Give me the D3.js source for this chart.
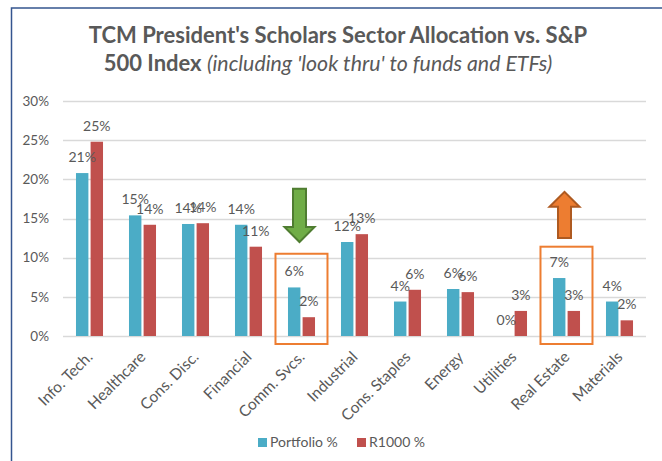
<!DOCTYPE html>
<html>
<head>
<meta charset="utf-8">
<script src="https://cdn.jsdelivr.net/npm/d3@7"></script>
<style>
    body { margin: 0; background: #fff; }
    svg { display: block; font-family: Lato, "Open Sans", sans-serif; }
</style>
</head>
<body>
<script>
// sectors and weights (%)
var sectors = ["Info. Tech.", "Healthcare", "Cons. Disc.", "Financial", "Comm. Svcs.", "Industrial",
    "Cons. Staples", "Energy", "Utilities", "Real Estate", "Materials"];
var portfolio = [20.8, 15.4, 14.3, 14.2, 6.2, 12.0, 4.4, 6.0, 0, 7.4, 4.4];
var r1000 = [24.8, 14.2, 14.4, 11.4, 2.4, 13.0, 5.9, 5.6, 3.2, 3.2, 2.0];
var seriesNames = ["Portfolio %", "R1000 %"];
var yTicks = [0, 5, 10, 15, 20, 25, 30];

// highlight boxes and arrows
var boxCats = ["Comm. Svcs.", "Real Estate"];
var boxTops = [10.5, 11.4];
var arrowCats = ["Comm. Svcs.", "Real Estate"];
var arrowDirs = ["down", "up"];
var arrowFrom = [18.8, 12.5];
var arrowTo = [12.0, 18.4];

var width = 662, height = 461;
var margin = {top: 101, right: 16, bottom: 126, left: 63};
var colors = ["#4bacc6", "#c0504d"];
var textColor = "#595959";

var svg = d3.select("body").append("svg")
    .attr("width", width)
    .attr("height", height);

// outer frame
svg.append("rect")
    .attr("x", 11.5).attr("y", 8)
    .attr("width", width + 10).attr("height", height + 10)
    .attr("fill", "none")
    .attr("stroke", "#34558f")
    .attr("stroke-width", 1.5);

var x0 = d3.scaleBand()
    .domain(sectors)
    .range([margin.left, width - margin.right])
    .paddingInner(0.49)
    .paddingOuter(0.245);

var x1 = d3.scaleBand()
    .domain([0, 1])
    .range([0, x0.bandwidth()])
    .paddingInner(0.15);

var y = d3.scaleLinear()
    .domain([0, 30])
    .range([height - margin.bottom + 1, margin.top]);

// title
svg.append("text")
    .attr("x", 338).attr("y", 43)
    .attr("text-anchor", "middle")
    .attr("fill", textColor)
    .style("font-size", "22px")
    .style("font-weight", "bold")
    .text("TCM President's Scholars Sector Allocation vs. S&P");

var sub = svg.append("text")
    .attr("x", 328).attr("y", 71)
    .attr("text-anchor", "middle")
    .attr("fill", textColor)
    .style("font-size", "22px");
sub.append("tspan").style("font-weight", "bold").text("500 Index ");
sub.append("tspan").style("font-style", "italic").style("font-size", "21.3px")
    .text("(including 'look thru' to funds and ETFs)");

// gridlines
svg.append("g")
    .selectAll("line")
    .data(yTicks)
    .enter().append("line")
    .attr("x1", margin.left)
    .attr("x2", width - margin.right)
    .attr("y1", function (d) { return Math.round(y(d)) + 0.5; })
    .attr("y2", function (d) { return Math.round(y(d)) + 0.5; })
    .attr("stroke", "#d9d9d9")
    .attr("stroke-width", 1.5);

// y axis labels
var yAxis = svg.append("g")
    .attr("transform", "translate(" + (margin.left - 14) + ",0)")
    .call(d3.axisLeft(y).tickValues(yTicks).tickSize(0).tickFormat(function (d) { return d + "%"; }));
yAxis.select(".domain").remove();
yAxis.selectAll("text")
    .attr("fill", textColor)
    .attr("x", 0)
    .style("font-size", "13.5px")
    .style("font-family", "Lato, sans-serif");

// bars
var rows = sectors.map(function (s, i) {
    return {sector: s, values: [portfolio[i], r1000[i]]};
});

var groups = svg.append("g")
    .selectAll("g")
    .data(rows)
    .enter().append("g")
    .attr("transform", function (d) { return "translate(" + x0(d.sector) + ",0)"; });

groups.selectAll("rect")
    .data(function (d) { return d.values.map(function (v, k) { return {k: k, v: v}; }); })
    .enter().append("rect")
    .attr("x", function (d) { return x1(d.k); })
    .attr("width", x1.bandwidth())
    .attr("y", function (d) { return y(d.v); })
    .attr("height", function (d) { return y(0) - y(d.v); })
    .attr("fill", function (d) { return colors[d.k]; });

// data labels
var fmt = d3.format(".0f");
groups.selectAll("text")
    .data(function (d) { return d.values.map(function (v, k) { return {k: k, v: v}; }); })
    .enter().append("text")
    .attr("x", function (d) { return x1(d.k) + x1.bandwidth() / 2; })
    .attr("y", function (d) { return y(d.v) - 11; })
    .attr("text-anchor", "middle")
    .attr("fill", textColor)
    .style("font-size", "14px")
    .text(function (d) { return fmt(d.v) + "%"; });

// category labels
svg.append("g")
    .selectAll("text")
    .data(sectors)
    .enter().append("text")
    .attr("transform", function (d) {
        return "translate(" + (x0(d) + x0.bandwidth() / 2 + 4) + "," + 358 + ") rotate(-45)";
    })
    .attr("text-anchor", "end")
    .attr("fill", textColor)
    .style("font-size", "15.5px")
    .text(function (d) { return d; });

// highlight boxes
svg.append("g")
    .selectAll("rect")
    .data(boxCats)
    .enter().append("rect")
    .attr("x", function (d) { return x0(d) - 12.5; })
    .attr("y", function (d, i) { return y(boxTops[i]); })
    .attr("width", x0.step() - 1)
    .attr("height", function (d, i) { return y(0) + 8 - y(boxTops[i]); })
    .attr("fill", "none")
    .attr("stroke", "#ed7d31")
    .attr("stroke-width", 2);

// arrows
var arrowFill = {down: "#70ad47", up: "#ed7d31"};
var arrowStroke = {down: "#4f7d31", up: "#ae5a21"};
svg.append("g")
    .selectAll("path")
    .data(arrowCats)
    .enter().append("path")
    .attr("d", function (d, i) {
        var cx = x0(d) + x0.bandwidth() / 2 - 2;
        var yFrom = y(arrowFrom[i]), yTo = y(arrowTo[i]);
        var dir = yTo > yFrom ? 1 : -1;
        var headLen = 15, hw = 15, sw = 6.5;
        var yHead = yTo - dir * headLen;
        return "M" + (cx - sw) + "," + yFrom +
            "L" + (cx + sw) + "," + yFrom +
            "L" + (cx + sw) + "," + yHead +
            "L" + (cx + hw) + "," + yHead +
            "L" + cx + "," + yTo +
            "L" + (cx - hw) + "," + yHead +
            "L" + (cx - sw) + "," + yHead + "Z";
    })
    .attr("fill", function (d, i) { return arrowFill[arrowDirs[i]]; })
    .attr("stroke", function (d, i) { return arrowStroke[arrowDirs[i]]; })
    .attr("stroke-width", 2);

// legend
var legend = svg.append("g")
    .selectAll("g")
    .data(seriesNames)
    .enter().append("g")
    .attr("transform", function (d, i) { return "translate(" + (258 + i * 99) + ",437)"; });

legend.append("rect")
    .attr("width", 9).attr("height", 9)
    .attr("y", 1)
    .attr("fill", function (d, i) { return colors[i]; });

legend.append("text")
    .attr("x", 12).attr("y", 10)
    .attr("fill", textColor)
    .style("font-size", "14px")
    .text(function (d) { return d; });
</script>
</body>
</html>
